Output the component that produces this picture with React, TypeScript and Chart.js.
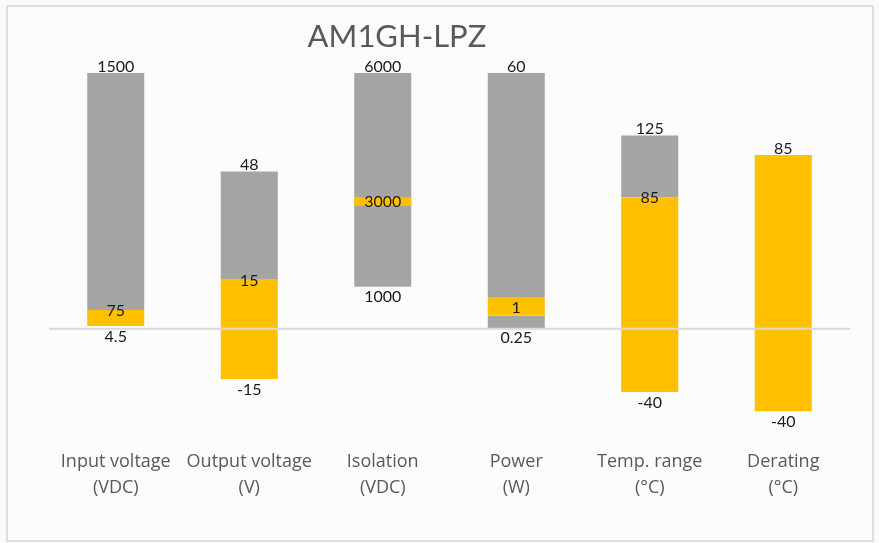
import React, { useEffect, useRef } from 'react';
import { Chart, registerables } from 'chart.js';

Chart.register(...registerables);

// ---- data ----
const title = 'AM1GH-LPZ';
const categories: string[][] = [
  ['Input voltage', '(VDC)'],
  ['Output voltage', '(V)'],
  ['Isolation', '(VDC)'],
  ['Power', '(W)'],
  ['Temp. range', '(°C)'],
  ['Derating', '(°C)'],
];
// Each category is drawn on its own normalised scale (100 = category maximum)
const grayRanges: ([number, number] | null)[] = [
  [7.3, 100],
  [19.1, 61.5],
  [16.4, 100],
  [12.1, 100],
  [51.3, 75.6],
  null,
];
const orangeRanges: ([number, number] | null)[] = [
  [1.0, 7.3],
  [-19.7, 19.1],
  [48.1, 51.4],
  [5.0, 12.1],
  [-24.8, 51.3],
  [-32.3, 67.9],
];
const grayLowRanges: ([number, number] | null)[] = [null, null, null, [0.3, 5.0], null, null];

const topLabels = ['1500', '48', '6000', '60', '125', '85'];
const midLabels = ['75', '15', '3000', '1', '85', ''];
const midAnchor = ['top', 'top', 'center', 'center', 'top', 'top'];
const bottomLabels = ['4.5', '-15', '1000', '0.25', '-40', '-40'];

const GRAY = '#A5A5A5';
const ORANGE = '#FFC000';
const FONT = 'Lato, "Open Sans", sans-serif';
const CAT_FONT = '"Open Sans", Lato, sans-serif';

const overlayPlugin = {
  id: 'overlay',
  afterDatasetsDraw(chart: any) {
    const { ctx, chartArea } = chart;
    const xs = chart.scales.x;
    const ys = chart.scales.y;
    // zero line
    ctx.save();
    ctx.strokeStyle = '#D9D9D9';
    ctx.lineWidth = 2;
    const y0 = ys.getPixelForValue(0);
    ctx.beginPath();
    ctx.moveTo(chartArea.left, y0);
    ctx.lineTo(chartArea.right, y0);
    ctx.stroke();

    // data labels
    ctx.fillStyle = '#1A1A1A';
    ctx.font = `16px ${FONT}`;
    ctx.textAlign = 'center';
    ctx.textBaseline = 'alphabetic';
    categories.forEach((_, i) => {
      const cx = xs.getPixelForValue(i);
      const ranges = [grayRanges[i], orangeRanges[i], grayLowRanges[i]].filter(Boolean) as [number, number][];
      const hi = Math.max(...ranges.map((r) => r[1]));
      const lo = Math.min(...ranges.map((r) => r[0]));
      ctx.fillText(topLabels[i], cx, ys.getPixelForValue(hi) - 1.5);
      ctx.fillText(bottomLabels[i], cx, ys.getPixelForValue(lo) + 15.5);
      const o = orangeRanges[i];
      if (midLabels[i] && o) {
        const v = midAnchor[i] === 'center' ? (o[0] + o[1]) / 2 : o[1];
        ctx.fillText(midLabels[i], cx, ys.getPixelForValue(v) + 5.75);
      }
    });

    // title
    ctx.fillStyle = '#595959';
    ctx.font = `31px ${FONT}`;
    ctx.fillText(title, 397, 47);
    ctx.restore();
  },
};

export default function App() {
  const ref = useRef<HTMLCanvasElement>(null);

  useEffect(() => {
    document.body.style.margin = '0';
    document.body.style.background = '#FAFAFA';
    const chart = new Chart(ref.current!, {
      type: 'bar',
      data: {
        labels: categories,
        datasets: [
          { label: 'gray', data: grayRanges as any, backgroundColor: GRAY, grouped: false, order: 2 } as any,
          { label: 'gray-low', data: grayLowRanges as any, backgroundColor: GRAY, grouped: false, order: 2 } as any,
          { label: 'orange', data: orangeRanges as any, backgroundColor: ORANGE, grouped: false, order: 1 } as any,
        ],
      },
      options: {
        responsive: false,
        animation: false,
        layout: { padding: { top: 73, left: 49, right: 29, bottom: 24.7 } },
        datasets: { bar: { barPercentage: 0.427, categoryPercentage: 1 } },
        plugins: { legend: { display: false }, tooltip: { enabled: false }, title: { display: false } },
        scales: {
          x: {
            grid: { display: false, drawTicks: false },
            border: { display: false },
            ticks: {
              color: '#595959',
              font: { family: CAT_FONT, size: 18, lineHeight: 26 / 18 },
              padding: 17.7,
              maxRotation: 0,
              autoSkip: false,
            },
          },
          y: { display: false, min: -40, max: 100 },
        },
      },
      plugins: [overlayPlugin],
    });
    return () => chart.destroy();
  }, []);

  return (
    <div style={{ position: 'relative', width: 879, height: 543, background: '#FAFAFA' }}>
      <div
        style={{
          position: 'absolute',
          left: 6,
          top: 5,
          width: 864,
          height: 533,
          border: '2px solid #DEDEDE',
          background: '#FCFCFC',
        }}
      />
      <canvas ref={ref} width={879} height={543} style={{ position: 'absolute', left: 0, top: 0 }} />
    </div>
  );
}
